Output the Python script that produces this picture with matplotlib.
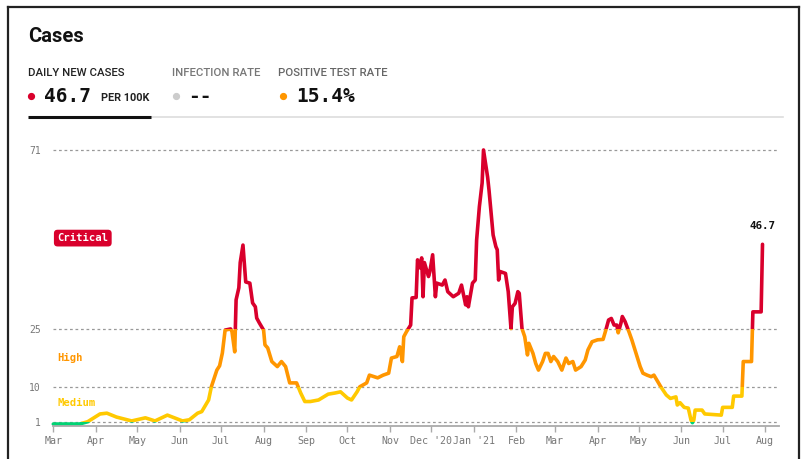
import datetime as dt
import matplotlib
matplotlib.use("Agg")
import matplotlib.pyplot as plt
import matplotlib.dates as mdates
from matplotlib.patches import Rectangle
from matplotlib.lines import Line2D

# daily new cases per 100k (days since 2020-03-01)
start = dt.date(2020, 3, 1)
day_offsets = [
    0, 19, 25, 34, 39, 46, 57, 67, 74, 83, 94, 99, 105, 108, 113, 115, 119, 121,
    123, 125, 129, 130, 132, 133, 135, 136, 138, 140, 143, 145, 147, 148, 150,
    153, 154, 156, 159, 163, 166, 169, 172, 177, 180, 183, 187, 193, 200, 205,
    209, 214, 217, 221, 223, 228, 230, 236, 240, 244, 246, 250, 252, 254, 255,
    257, 260, 261, 264, 265, 267, 268, 269, 270, 273, 274, 276, 278, 279, 283,
    285, 287, 291, 295, 297, 300, 301, 302, 305, 307, 308, 310, 312, 313, 316,
    317, 319, 320, 322, 323, 324, 325, 329, 331, 333, 334, 336, 338, 339, 341,
    343, 345, 346, 349, 351, 353, 356, 358, 360, 362, 364, 367, 370, 373, 375,
    378, 380, 384, 387, 389, 392, 396, 400, 402, 404, 406, 408, 410, 411, 413,
    414, 416, 419, 421, 424, 427, 429, 432, 435, 437, 439, 442, 446, 449, 453,
    454, 456, 459, 462, 464, 465, 466, 467, 472, 474, 486, 487, 494, 495, 501,
    502, 508, 509, 515, 516,
]
cases_per_100k = [
    0.4, 0.4, 1.0, 3.0, 3.2, 2.2, 1.2, 2.0, 1.2, 2.7, 1.2, 1.5, 3.2, 3.6, 6.6, 10, 14.3, 15.4,
    18.7, 24.6, 24.9, 24.2, 19.0, 32.4, 35.5, 42, 46.5, 37, 36.7, 31.6, 30.6, 27.7, 26.4,
    24.6, 20.8, 20, 16.5, 15.2, 16.5, 15.2, 11, 11, 8.4, 6.2, 6.2, 6.6, 8.1, 8.4,
    8.7, 7.1, 6.6, 8.7, 10, 11, 13, 12.3, 13, 13.5, 17.4, 17.8, 20.3, 16.5, 22.9,
    24.2, 25.9, 32.9, 33, 42.7, 40.6, 43.2, 33.2, 42, 38.4, 39.7, 44, 33.2, 36.7, 36.2,
    37.5, 34.5, 33.2, 34.1, 36.2, 31.1, 33.2, 30.6, 36.7, 37.5, 47.8, 56.4, 62.5, 71, 64,
    60.7, 53, 49.1, 46.1, 45.3, 37.5, 39.7, 39.2, 34.5, 25, 30.6, 31.5, 34.5, 34.1, 25,
    22.9, 18.2, 21.2, 18.6, 16, 14.3, 16.5, 18.6, 18.6, 16.5, 17.8, 16.5, 14.3, 17.4, 16,
    16.5, 14.3, 15.2, 16.9, 19.5, 21.6, 22.1, 22.2, 24.6, 27.2, 27.6, 25.9, 25.9, 23.9, 26.4,
    28.1, 26.8, 24, 22, 18.6, 15.2, 13.5, 13, 12.6, 13, 11.8, 10, 7.9, 7, 7.4,
    5.3, 5.9, 4.7, 4.5, 1.4, 0.75, 1.4, 4.0, 4.0, 3.0, 2.7, 4.7, 4.7, 7.6, 7.6,
    16.5, 16.5, 29.3, 29.3, 46.7,
]
dates = [start + dt.timedelta(days=d) for d in day_offsets]

# risk levels: (low, high, colour)
level_bands = [(-5, 1, "#00D474"), (1, 10, "#FFC900"), (10, 25, "#FF9600"), (25, 200, "#D9002C")]
y_ticks = [1, 10, 25, 71]
month_ticks = [dt.date(2020 + (m - 1) // 12, (m - 1) % 12 + 1, 1) for m in range(3, 21)]
month_labels = ["Mar", "Apr", "May", "Jun", "Jul", "Aug", "Sep", "Oct", "Nov", "Dec '20",
                "Jan '21", "Feb", "Mar", "Apr", "May", "Jun", "Jul", "Aug"]

W, H = 802, 459
MONO = "DejaVu Sans Mono"
SANS = "Roboto"


def px(x, y):
    return x / W, 1 - y / H


fig = plt.figure(figsize=(W / 100, H / 100), dpi=100)

# card frame
for xs, ys in [((8, 8), (7, 470)), ((8, 799), (7, 7)), ((799, 799), (7, 470))]:
    fig.add_artist(Line2D([x / W for x in xs], [1 - y / H for y in ys],
                          transform=fig.transFigure, color="#222222", lw=1.6))

# header
fig.text(*px(28, 42), "Cases", fontsize=14.5, fontweight="bold", family=SANS, color="#111111")
fig.text(*px(28, 76), "DAILY NEW CASES", fontsize=8.2, fontweight="medium", family=SANS, color="#222222")
fig.text(*px(172, 76), "INFECTION RATE", fontsize=8.2, fontweight="medium", family=SANS, color="#777777")
fig.text(*px(278, 76), "POSITIVE TEST RATE", fontsize=8.2, fontweight="medium", family=SANS, color="#666666")

for (x, y), c in [((31, 96), "#D9002C"), ((176, 96), "#CCCCCC"), ((283, 96), "#FF9600")]:
    fig.add_artist(Line2D([x / W], [1 - y / H], transform=fig.transFigure, marker="o",
                          markersize=4.2, color=c, lw=0))
fig.text(*px(44, 102), "46.7", fontsize=14, fontweight="bold", family=MONO, color="#111111")
fig.text(*px(101, 101), "PER 100K", fontsize=7.8, fontweight="bold", family=SANS, color="#222222")
fig.text(*px(188, 102), "--", fontsize=14, fontweight="bold", family=MONO, color="#111111")
fig.text(*px(296, 102), "15.4%", fontsize=14, fontweight="bold", family=MONO, color="#111111")

fig.add_artist(Line2D([151 / W, 783 / W], [1 - 117 / H] * 2, transform=fig.transFigure,
                      color="#DDDDDD", lw=1.2))
fig.add_artist(Line2D([28 / W, 151 / W], [1 - 117 / H] * 2, transform=fig.transFigure,
                      color="#111111", lw=2.2, solid_capstyle="butt"))

# chart
ax_left, ax_right = 53.3, 779
ax_bottom, ax_top = 425.6, 425.6 - 72 * 3.882
ax = fig.add_axes([ax_left / W, 1 - ax_bottom / H, (ax_right - ax_left) / W, (ax_bottom - ax_top) / H])
ax.set_xlim(start, start + dt.timedelta(days=528.2))
ax.set_ylim(0, 72)

for lo, hi, c in level_bands:
    line, = ax.plot(dates, cases_per_100k, color=c, lw=2.6, solid_joinstyle="round",
                    solid_capstyle="round")
    x0 = mdates.date2num(start) - 50
    line.set_clip_path(Rectangle((x0, lo), 700, hi - lo, transform=ax.transData))

for y in y_ticks:
    ax.axhline(y, color="#999999", lw=0.9, ls=(0, (2.2, 2.2)), zorder=0)

for s in ["top", "right", "left"]:
    ax.spines[s].set_visible(False)
ax.spines["bottom"].set_color("#AAAAAA")
ax.spines["bottom"].set_linewidth(1.3)

ax.set_yticks(y_ticks)
ax.set_yticklabels([str(v) for v in y_ticks], family=MONO, fontsize=7, color="#777777")
ax.tick_params(axis="y", length=0, pad=9)
ax.set_xticks(month_ticks)
ax.set_xticklabels(month_labels, family=MONO, fontsize=7.2, color="#777777")
ax.tick_params(axis="x", length=4.5, color="#AAAAAA", width=1, pad=3)

# level labels
ax.text(0.0055, 48.3, "Critical", transform=ax.get_yaxis_transform(), family=MONO, fontsize=7.6,
        fontweight="bold", color="white", va="center",
        bbox=dict(boxstyle="round,pad=0.32,rounding_size=0.35", fc="#D9002C", ec="none"))
ax.text(0.0055, 17.5, "High", transform=ax.get_yaxis_transform(), family=MONO, fontsize=7.6,
        fontweight="bold", color="#FF9600", va="center")
ax.text(0.0055, 5.8, "Medium", transform=ax.get_yaxis_transform(), family=MONO, fontsize=7.6,
        fontweight="bold", color="#FFC900", va="center")

ax.annotate(f"{cases_per_100k[-1]}", (dates[-1], cases_per_100k[-1]), xytext=(0, 13),
            textcoords="offset points", ha="center", va="center", family=MONO,
            fontsize=7.8, fontweight="bold", color="#111111")

fig.savefig("out.png", dpi=100)
